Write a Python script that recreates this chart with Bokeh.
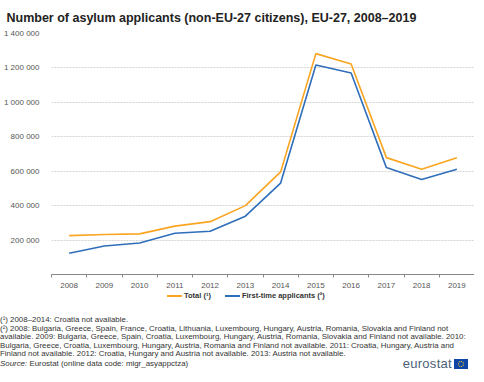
from bokeh.plotting import figure
from bokeh.models import Range1d, FixedTicker, Div
from bokeh.layouts import column
from bokeh.embed import file_html
from bokeh.resources import INLINE

years = [2008, 2009, 2010, 2011, 2012, 2013, 2014, 2015, 2016, 2017, 2018, 2019]
total = [226000, 232000, 236000, 281000, 307000, 400000, 596000, 1283000, 1223000, 679000, 612000, 678000]
first_time = [123000, 166000, 183000, 240000, 251000, 339000, 531000, 1217000, 1170000, 621000, 552000, 612000]
y_ticks = [200000, 400000, 600000, 800000, 1000000, 1200000, 1400000]
y_labels = {t: f"{t:,}".replace(",", " ") for t in y_ticks}
series_names = ["Total (\u00b9)", "First-time applicants (\u00b2)"]

title_text = "Number of asylum applicants (non-EU-27 citizens), EU-27, 2008\u20132019"
notes = [
    "(\u00b9) 2008\u20132014: Croatia not available.",
    "(\u00b2) 2008: Bulgaria, Greece, Spain, France, Croatia, Lithuania, Luxembourg, Hungary, Austria, Romania, Slovakia and Finland not",
    "available. 2009: Bulgaria, Greece, Spain, Croatia, Luxembourg, Hungary, Austria, Romania, Slovakia and Finland not available. 2010:",
    "Bulgaria, Greece, Croatia, Luxembourg, Hungary, Austria, Romania and Finland not available. 2011: Croatia, Hungary, Austria and",
    "Finland not available. 2012: Croatia, Hungary and Austria not available. 2013: Austria not available.",
]
source_text = "Eurostat (online data code: migr_asyappctza)"

ORANGE = "#F9A521"
BLUE = "#2F6EBA"
FONT = "Liberation Sans"

p = figure(frame_width=423, frame_height=241, output_backend="svg", toolbar_location=None,
           x_range=Range1d(2007.5, 2019.5), y_range=Range1d(0, 1400000),
           min_border_left=45, min_border_right=0, min_border_top=27, min_border_bottom=0)
p.outline_line_color = None

p.title.text = title_text
p.title.text_font = FONT
p.title.text_font_size = "12.5px"
p.title.text_font_style = "bold"
p.title.text_color = "#222222"
p.title.align = "left"
p.title.offset = -45
p.title.standoff = 17

# y axis
p.yaxis.ticker = FixedTicker(ticks=y_ticks)
p.yaxis.major_label_overrides = y_labels
p.yaxis.axis_line_color = None
p.yaxis.major_tick_line_color = None
p.yaxis.minor_tick_line_color = None
p.yaxis.major_label_text_font = FONT
p.yaxis.major_label_text_font_size = "8px"
p.yaxis.major_label_text_color = "#555555"
p.yaxis.major_label_standoff = 6

# x axis
p.xaxis.ticker = FixedTicker(ticks=years, minor_ticks=[y - 0.5 for y in years] + [2019.5])
p.xaxis.major_label_overrides = {y: str(y) for y in years}
p.xaxis.axis_line_color = "#888888"
p.xaxis.major_tick_line_color = None
p.xaxis.minor_tick_line_color = "#888888"
p.xaxis.minor_tick_out = 3
p.xaxis.minor_tick_in = 0
p.xaxis.major_tick_out = 0
p.xaxis.major_tick_in = 0
p.xaxis.major_label_text_font = FONT
p.xaxis.major_label_text_font_size = "8px"
p.xaxis.major_label_text_color = "#555555"
p.xaxis.major_label_standoff = 5

p.xgrid.grid_line_color = None
p.ygrid.ticker = FixedTicker(ticks=y_ticks)
p.ygrid.grid_line_color = "#d4d4d4"
p.ygrid.grid_line_dash = "2 1"

p.line(years, total, line_color=ORANGE, line_width=1.6)
p.line(years, first_time, line_color=BLUE, line_width=1.6)

def swatch(color):
    return (f'<span style="display:inline-block; width:15px; height:2px; background:{color}; '
            f'vertical-align:middle; margin-right:2px;"></span>')

legend_html = (
    f'<div style="font-family:\'{FONT}\'; font-size:7.5px; font-weight:bold; color:#333333; '
    f'line-height:9px; height:9px; padding-left:167px; margin-top:1px; white-space:nowrap;">'
    f'{swatch(ORANGE)}{series_names[0]}<span style="display:inline-block; width:14px;"></span>'
    f'{swatch(BLUE)}{series_names[1]}</div>'
)
notes_html = "<br>".join(notes)
html = (
    legend_html +
    f'<div style="font-family:\'{FONT}\'; font-size:7.9px; line-height:8.5px; color:#333333; '
    f'white-space:nowrap; width:468px; margin-top:16px;">{notes_html}'
    f'<div style="display:flex; justify-content:space-between; align-items:flex-end; height:10px;">'
    f'<span style="line-height:8.5px; padding-bottom:0px;"><i>Source:</i> {source_text}</span>'
    f'<span style="font-size:13px; line-height:10px; color:#4a5f78; letter-spacing:0.3px;">eurostat'
    f'<span style="display:inline-block; width:14px; height:10px; background:#0E47A8; margin-left:2px; '
    f'vertical-align:-1px; position:relative;"><span style="position:absolute; left:4px; top:2px; width:6px; '
    f'height:6px; border-radius:50%; border:1px dotted #FFD617; box-sizing:border-box;"></span></span></span>'
    f'</div></div>'
)
notes_div = Div(text=html, width=468, margin=(0, 0, 0, 0))

layout = column(p, notes_div, spacing=0)
open("out.html", "w").write(file_html(layout, INLINE))
